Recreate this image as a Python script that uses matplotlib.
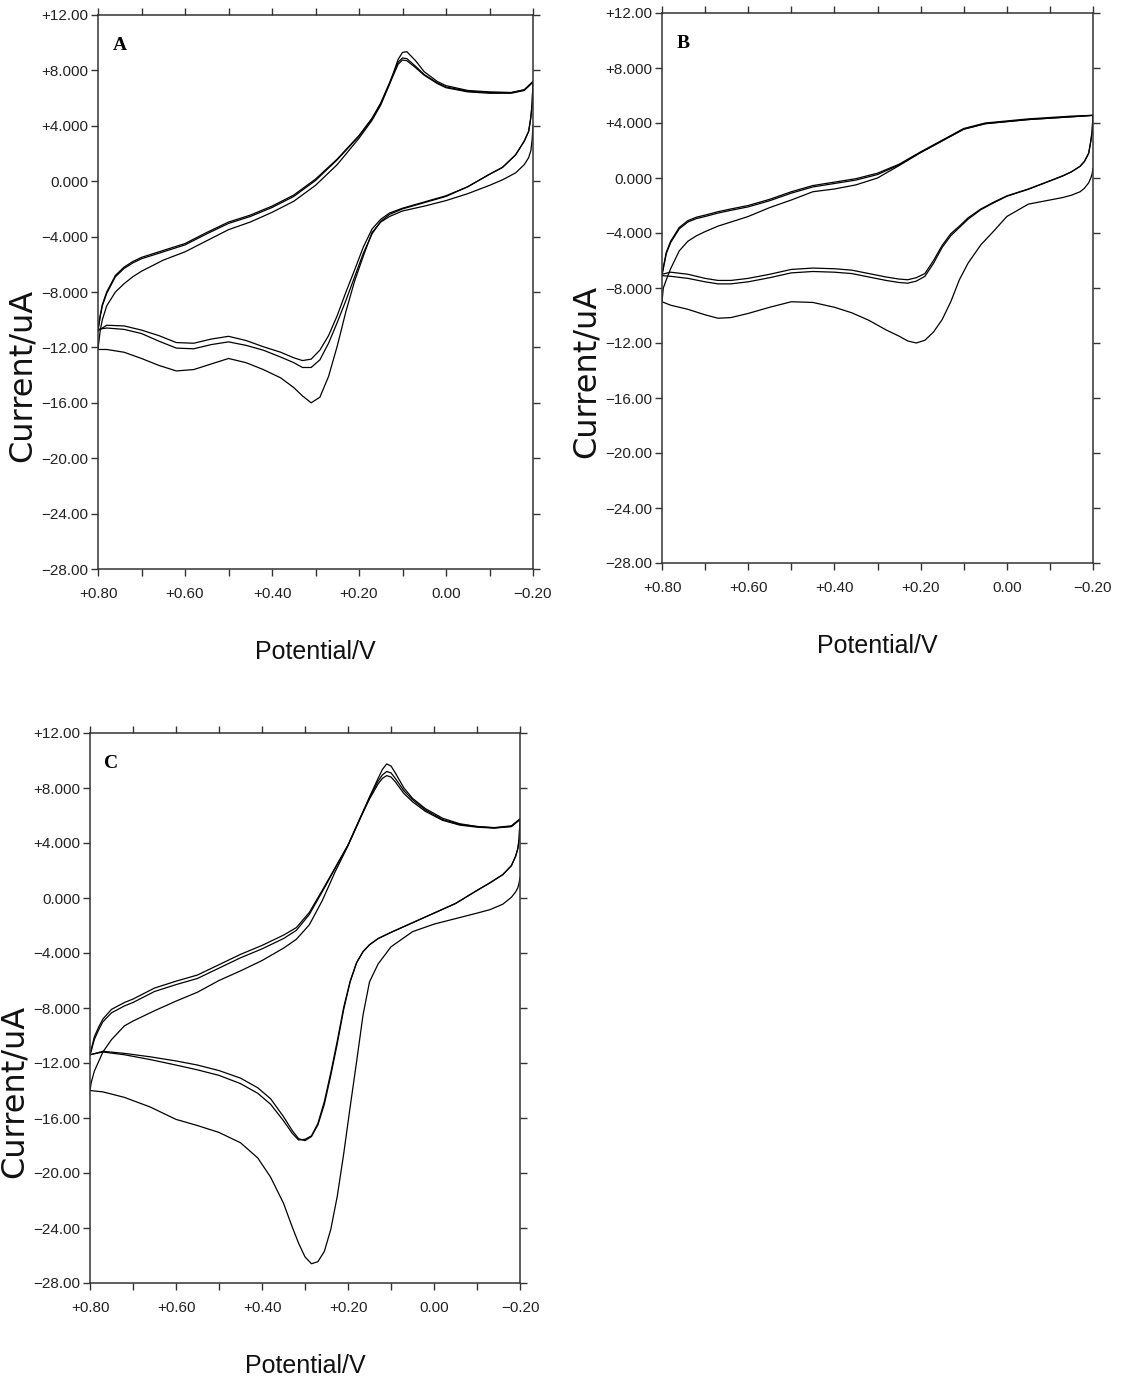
import matplotlib
matplotlib.use("Agg")
import matplotlib.pyplot as plt
from matplotlib import font_manager

# ------------------------------------------------------------------ data
# Panel A  (potential in V, current in uA)
EU_A = [0.80, 0.795, 0.79, 0.78, 0.76, 0.74, 0.72, 0.70, 0.65, 0.60, 0.55, 0.50,
        0.45, 0.40, 0.35, 0.30, 0.25, 0.20, 0.17, 0.15, 0.13, 0.11, 0.10, 0.09,
        0.07, 0.05, 0.02, 0.00, -0.05, -0.10, -0.15, -0.18, -0.20]
A1_up = [-12.1, -10.8, -10.0, -9.0, -8.0, -7.4, -6.9, -6.5, -5.7, -5.1, -4.3, -3.5,
         -2.95, -2.25, -1.45, -0.3, 1.2, 3.1, 4.4, 5.5, 7.0, 8.8, 9.3, 9.35,
         8.7, 7.9, 7.2, 6.9, 6.55, 6.45, 6.4, 6.6, 7.2]
A2_up = [-10.7, -9.7, -8.9, -8.0, -6.8, -6.2, -5.8, -5.5, -5.0, -4.5, -3.7, -2.95,
         -2.45, -1.8, -1.0, 0.15, 1.6, 3.3, 4.55, 5.65, 7.1, 8.6, 8.9, 8.85,
         8.3, 7.7, 7.1, 6.8, 6.5, 6.4, 6.4, 6.6, 7.2]
A3_up = [-10.8, -9.8, -9.0, -8.1, -6.9, -6.3, -5.9, -5.6, -5.1, -4.6, -3.8, -3.05,
         -2.55, -1.9, -1.1, 0.05, 1.55, 3.25, 4.5, 5.6, 7.0, 8.45, 8.75, 8.7,
         8.2, 7.65, 7.05, 6.75, 6.45, 6.35, 6.35, 6.55, 7.15]
EL_A = [-0.20, -0.198, -0.195, -0.19, -0.18, -0.16, -0.13, -0.10, -0.05, 0.00, 0.05,
        0.10, 0.13, 0.15, 0.17, 0.19, 0.21, 0.23, 0.25, 0.27, 0.29, 0.31, 0.33, 0.35,
        0.38, 0.42, 0.46, 0.50, 0.54, 0.58, 0.62, 0.66, 0.70, 0.74, 0.78, 0.80]
A1_lo = [4.0, 3.0, 2.2, 1.7, 1.2, 0.6, 0.1, -0.3, -0.9, -1.4, -1.8,
         -2.15, -2.55, -2.95, -3.7, -5.4, -7.2, -9.4, -11.9, -14.1, -15.6, -16.0, -15.5, -14.9,
         -14.2, -13.6, -13.1, -12.8, -13.2, -13.6, -13.7, -13.3, -12.8, -12.35, -12.15, -12.15]
A2_lo = [7.2, 5.6, 4.6, 3.6, 2.9, 1.9, 1.0, 0.5, -0.4, -1.1, -1.55,
         -2.0, -2.4, -2.9, -3.8, -5.2, -6.9, -8.6, -10.2, -11.7, -12.9, -13.45, -13.45, -13.1,
         -12.7, -12.2, -11.85, -11.6, -11.8, -12.1, -12.05, -11.55, -11.0, -10.7, -10.6, -10.7]
A3_lo = [7.2, 5.6, 4.6, 3.6, 2.9, 1.9, 1.0, 0.5, -0.4, -1.05, -1.5,
         -1.95, -2.3, -2.75, -3.45, -4.75, -6.4, -8.0, -9.7, -11.15, -12.2, -12.85, -12.95, -12.75,
         -12.35, -11.95, -11.5, -11.2, -11.4, -11.7, -11.65, -11.15, -10.75, -10.45, -10.4, -10.8]

# Panel B
EU_B = [0.80, 0.797, 0.79, 0.78, 0.76, 0.74, 0.72, 0.70, 0.67, 0.64, 0.60, 0.55,
        0.50, 0.45, 0.40, 0.35, 0.30, 0.25, 0.20, 0.15, 0.10, 0.05, 0.00, -0.05,
        -0.10, -0.15, -0.20]
B1_up = [-9.0, -8.0, -7.4, -6.6, -5.3, -4.6, -4.2, -3.9, -3.5, -3.2, -2.8, -2.15,
         -1.6, -1.0, -0.8, -0.5, 0.0, 0.9, 1.85, 2.7, 3.55, 3.95, 4.1, 4.25,
         4.35, 4.45, 4.55]
B2_up = [-7.0, -6.5, -5.4, -4.6, -3.6, -3.1, -2.85, -2.7, -2.45, -2.25, -2.0, -1.55,
         -1.0, -0.55, -0.3, -0.05, 0.35, 1.0, 1.9, 2.75, 3.6, 4.0, 4.15, 4.3,
         4.4, 4.5, 4.56]
B3_up = [-7.1, -6.6, -5.5, -4.7, -3.7, -3.2, -2.95, -2.8, -2.55, -2.35, -2.1, -1.65,
         -1.1, -0.65, -0.4, -0.15, 0.25, 0.95, 1.85, 2.7, 3.55, 3.95, 4.1, 4.25,
         4.35, 4.45, 4.56]
EL_B = [-0.20, -0.198, -0.195, -0.19, -0.18, -0.17, -0.15, -0.13, -0.10, -0.05, 0.00,
        0.03, 0.06, 0.09, 0.11, 0.13, 0.15, 0.17, 0.19, 0.21, 0.23, 0.25, 0.28, 0.32,
        0.36, 0.40, 0.45, 0.50, 0.55, 0.60, 0.64, 0.67, 0.70, 0.74, 0.78, 0.80]
B1_lo = [0.7, 0.3, 0.0, -0.35, -0.75, -1.0, -1.25, -1.42, -1.6, -1.9, -2.8,
         -3.85, -4.85, -6.2, -7.4, -9.0, -10.3, -11.2, -11.8, -12.0, -11.85, -11.5, -11.05, -10.35,
         -9.8, -9.4, -9.05, -9.0, -9.4, -9.85, -10.15, -10.2, -9.95, -9.55, -9.25, -9.0]
B2_lo = [4.56, 3.4, 2.7, 1.8, 1.2, 0.85, 0.45, 0.16, -0.2, -0.8, -1.3,
         -1.75, -2.25, -2.9, -3.5, -4.05, -4.9, -6.0, -6.95, -7.25, -7.4, -7.35, -7.2, -6.95,
         -6.7, -6.6, -6.55, -6.65, -7.0, -7.3, -7.45, -7.45, -7.3, -7.0, -6.85, -7.0]
B3_lo = [4.56, 3.4, 2.7, 1.8, 1.2, 0.85, 0.45, 0.15, -0.22, -0.82, -1.33,
         -1.8, -2.3, -3.0, -3.6, -4.2, -5.05, -6.2, -7.15, -7.5, -7.65, -7.6, -7.45, -7.2,
         -6.95, -6.85, -6.8, -6.9, -7.25, -7.55, -7.7, -7.7, -7.55, -7.3, -7.15, -7.1]

# Panel C
EU_C = [0.80, 0.797, 0.79, 0.78, 0.77, 0.75, 0.72, 0.70, 0.65, 0.60, 0.55, 0.50,
        0.45, 0.40, 0.35, 0.32, 0.29, 0.26, 0.23, 0.20, 0.17, 0.15, 0.13, 0.12,
        0.11, 0.10, 0.09, 0.07, 0.05, 0.02, -0.02, -0.06, -0.10, -0.14, -0.18, -0.20]
C1_up = [-14.0, -13.4, -12.6, -11.9, -11.2, -10.3, -9.3, -8.95, -8.2, -7.5, -6.85, -6.0,
         -5.3, -4.55, -3.65, -3.0, -1.95, -0.2, 1.9, 3.8, 5.9, 7.35, 8.7, 9.35,
         9.75, 9.6, 9.1, 8.0, 7.25, 6.5, 5.8, 5.4, 5.2, 5.1, 5.2, 5.75]
C2_up = [-11.4, -11.1, -10.3, -9.6, -9.0, -8.35, -7.85, -7.6, -6.8, -6.3, -5.85, -5.1,
         -4.35, -3.7, -2.95, -2.35, -1.2, 0.45, 2.15, 3.85, 5.95, 7.3, 8.5, 8.95,
         9.2, 9.1, 8.7, 7.8, 7.15, 6.4, 5.7, 5.35, 5.2, 5.12, 5.25, 5.75]
C3_up = [-11.4, -11.0, -10.1, -9.4, -8.8, -8.1, -7.6, -7.35, -6.55, -6.05, -5.6, -4.85,
         -4.1, -3.45, -2.7, -2.15, -1.05, 0.55, 2.2, 3.85, 5.9, 7.2, 8.3, 8.7,
         8.9, 8.8, 8.45, 7.6, 7.0, 6.3, 5.65, 5.3, 5.15, 5.08, 5.2, 5.7]
EL_C = [-0.20, -0.198, -0.195, -0.19, -0.18, -0.16, -0.13, -0.10, -0.05, 0.00, 0.05,
        0.10, 0.13, 0.15, 0.165, 0.18, 0.195, 0.21, 0.225, 0.24, 0.255, 0.27, 0.285,
        0.30, 0.315, 0.33, 0.35, 0.38, 0.41, 0.45, 0.50, 0.55, 0.60, 0.66, 0.72, 0.77, 0.80]
C1_lo = [1.5, 1.1, 0.75, 0.45, 0.05, -0.45, -0.85, -1.1, -1.5, -1.9, -2.45,
         -3.55, -4.8, -6.1, -8.5, -11.9, -15.2, -18.6, -21.7, -24.1, -25.7, -26.45, -26.6,
         -26.1, -25.1, -23.9, -22.2, -20.3, -18.9, -17.8, -17.05, -16.55, -16.1, -15.2, -14.5, -14.1, -14.0]
C2_lo = [5.75, 4.3, 3.6, 3.05, 2.35, 1.7, 1.1, 0.55, -0.4, -1.1, -1.8,
         -2.5, -2.95, -3.4, -3.9, -4.7, -6.05, -7.95, -10.4, -12.7, -14.8, -16.4, -17.3,
         -17.55, -17.6, -17.1, -16.2, -15.0, -14.2, -13.5, -12.9, -12.5, -12.15, -11.75, -11.4, -11.2, -11.4]
C3_lo = [5.75, 4.3, 3.6, 3.05, 2.35, 1.7, 1.1, 0.55, -0.4, -1.1, -1.8,
         -2.5, -2.95, -3.4, -3.9, -4.7, -6.1, -8.1, -10.6, -12.9, -15.0, -16.5, -17.35,
         -17.65, -17.5, -16.9, -15.9, -14.6, -13.8, -13.1, -12.55, -12.15, -11.85, -11.55, -11.3, -11.15, -11.4]

# axis ticks / labels
X_TICKS = [0.8, 0.7, 0.6, 0.5, 0.4, 0.3, 0.2, 0.1, 0.0, -0.1, -0.2]
X_LABELS = ["+0.80", "", "+0.60", "", "+0.40", "", "+0.20", "", "0.00", "", "\u22120.20"]
Y_TICKS = [12, 8, 4, 0, -4, -8, -12, -16, -20, -24, -28]
Y_LABELS = ["+12.00", "+8.000", "+4.000", "0.000", "\u22124.000", "\u22128.000",
            "\u221212.00", "\u221216.00", "\u221220.00", "\u221224.00", "\u221228.00"]
PANEL_LETTERS = ["A", "B", "C"]
X_TITLE = "Potential/V"
Y_TITLE = "Current/uA"


# ------------------------------------------------------------------ fonts
def pick(names):
    for n in names:
        try:
            font_manager.findfont(font_manager.FontProperties(family=n),
                                  fallback_to_default=False)
            return n
        except Exception:
            continue
    return "DejaVu Sans"


NARROW = pick(["Liberation Sans Narrow", "Liberation Sans", "DejaVu Sans"])
SERIF = pick(["Liberation Serif", "DejaVu Serif"])

W, H = 1122, 1383
fig = plt.figure(figsize=(W / 100, H / 100), dpi=100)
fig.patch.set_facecolor("white")


def fx(px):
    return px / W


def fy(py):
    return 1 - py / H


# axes boxes in pixel coordinates: left, top, right, bottom
boxes = [(98, 15, 533, 569), (662, 13, 1093, 563), (90, 733, 520, 1283)]

panels = [
    (EU_A, [A1_up, A2_up, A3_up], EL_A, [A1_lo, A2_lo, A3_lo]),
    (EU_B, [B1_up, B2_up, B3_up], EL_B, [B1_lo, B2_lo, B3_lo]),
    (EU_C, [C1_up, C2_up, C3_up], EL_C, [C1_lo, C2_lo, C3_lo]),
]

for (l, t, r, b), (eu, ups, el, los), letter in zip(boxes, panels, PANEL_LETTERS):
    ax = fig.add_axes([fx(l), fy(b), fx(r - l), (b - t) / H])
    for up in ups:
        ax.plot(eu, up, color="black", lw=0.9, solid_joinstyle="round")
    for lo in los:
        ax.plot(el, lo, color="black", lw=0.9, solid_joinstyle="round")
    ax.set_xlim(0.8, -0.2)
    ax.set_ylim(-28, 12)
    ax.set_xticks(X_TICKS)
    ax.set_xticklabels(X_LABELS)
    ax.set_yticks(Y_TICKS)
    ax.set_yticklabels(Y_LABELS)
    ax.tick_params(axis="both", which="major", direction="out", length=5,
                   width=1.0, color="#333333", labelcolor="#222222",
                   labelsize=11, top=True, right=True)
    ax.tick_params(axis="x", pad=8)
    ax.tick_params(axis="y", pad=2)
    for lab in ax.get_xticklabels() + ax.get_yticklabels():
        lab.set_family(NARROW)
    for s in ax.spines.values():
        s.set_color("#333333")
        s.set_linewidth(1.1)
    ax.text(0.05, 0.945, letter, transform=ax.transAxes, family=SERIF,
            fontweight="bold", fontsize=14, ha="center", va="center")

    # axis titles
    cx = (l + r) / 2
    fig.text(fx(cx), fy(b + 83), X_TITLE, family=NARROW, fontsize=18,
             ha="center", va="center", color="#111111")
    fig.text(fx(l - 76), fy((t + b) / 2 + 83), Y_TITLE, family="DejaVu Sans",
             fontsize=23, rotation=90, ha="center", va="center", color="#111111")

fig.savefig("out.png", dpi=100, facecolor="white")
